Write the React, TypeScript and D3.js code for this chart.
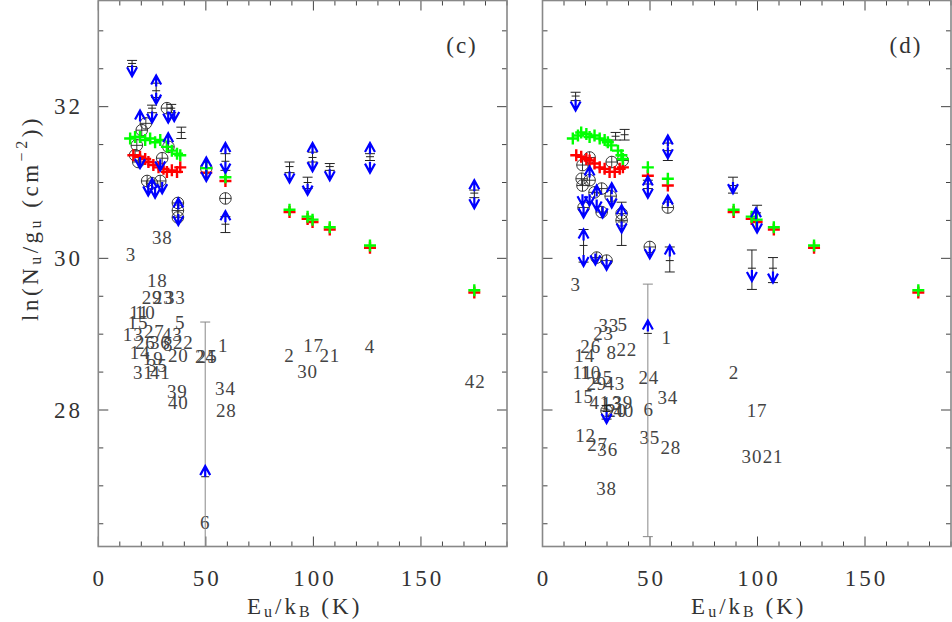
import React from 'react';
import * as d3 from 'd3';

type P = [number, number];
type EB = [number, number, number, number];
type L = [string, number, number];

// ---------- shared axes ----------
const xDomain: P = [0, 190];
const yDomain: P = [26.2, 33.4];
const xMajorTicks = [0, 50, 100, 150];
const yMajorTicks = [28, 30, 32];

// ---------- panel (c) ----------
const greenC: P[] = [
  [14.8, 31.58], [17.1, 31.6], [19.4, 31.6], [21.8, 31.56], [24.1, 31.58], [26.4, 31.53], [28.8, 31.56],
  [31.9, 31.47], [34.2, 31.42], [36.6, 31.38], [38.1, 31.36], [50.2, 31.19], [59.1, 31.07],
  [88.9, 30.64], [97.3, 30.55], [99.6, 30.51], [107.6, 30.41], [126.3, 30.17], [174.8, 29.58],
];
const redC: P[] = [
  [16.3, 31.36], [19.4, 31.34], [21.8, 31.31], [23.3, 31.27], [25.6, 31.23], [28.0, 31.2], [30.3, 31.18],
  [31.9, 31.14], [34.2, 31.16], [36.6, 31.14], [38.1, 31.2], [50.2, 31.13], [59.1, 31.02],
  [88.9, 30.61], [97.3, 30.52], [99.6, 30.48], [107.6, 30.38], [126.3, 30.14], [174.8, 29.55],
];
const barsC: EB[] = [
  [15.7, 32.57, 32.53, 32.61], [26.9, 32.21, 32.12, 32.31], [25.0, 31.98, 31.92, 32.02], [33.9, 31.98, 31.92, 32.03],
  [38.6, 31.66, 31.58, 31.73], [59.1, 31.28, 31.16, 31.38], [59.1, 30.45, 30.34, 30.55], [88.9, 31.21, 31.13, 31.27],
  [97.3, 31.0, 30.92, 31.07], [99.6, 31.33, 31.27, 31.4], [107.6, 31.21, 31.16, 31.25], [126.3, 31.34, 31.29, 31.38],
  [174.8, 30.86, 30.8, 30.9], [49.7, 27.12, 25.5, 29.16],
];
const downC: P[] = [
  [15.7, 32.4], [26.9, 32.04], [25.0, 31.79], [32.5, 31.79], [35.3, 31.81], [88.9, 31.0], [97.3, 30.84],
  [99.6, 31.15], [107.6, 31.03], [126.3, 31.13], [174.8, 30.66], [59.1, 31.13], [50.2, 31.02], [23.2, 30.83],
  [26.4, 30.8], [29.7, 30.86], [37.2, 30.44], [19.4, 31.19], [28.8, 31.16],
];
const upC: P[] = [
  [26.9, 32.41], [19.4, 31.95], [32.5, 31.65], [50.2, 31.33], [59.1, 31.52], [59.1, 30.62], [99.6, 31.52],
  [126.3, 31.52], [174.8, 31.03], [49.7, 27.26], [37.2, 30.79], [25.0, 31.05],
];
const circC: P[] = [
  [31.9, 31.98], [22.1, 31.78], [20.2, 31.69], [17.9, 31.49], [18.6, 31.27], [22.7, 31.02], [25.0, 30.99],
  [28.8, 31.02], [32.6, 31.47], [29.7, 31.32], [37.0, 30.73], [37.0, 30.63], [37.0, 30.54], [50.2, 31.19],
  [59.1, 30.79], [17.1, 31.36],
];
const labelsC: L[] = [
  ['38', 29.7, 30.28], ['3', 15.2, 30.05], ['18', 27.4, 29.71], ['29', 25.0, 29.49], ['23', 30.2, 29.49],
  ['33', 35.8, 29.49], ['11', 19.0, 29.29], ['10', 21.8, 29.29], ['15', 18.5, 29.16], ['5', 38.1, 29.16],
  ['13', 16.2, 29.0], ['27', 26.0, 29.04], ['43', 34.4, 29.0], ['26', 21.8, 28.89], ['36', 28.8, 28.89],
  ['8', 32.5, 28.87], ['22', 39.5, 28.89], ['14', 19.4, 28.76], ['19', 25.5, 28.68], ['20', 37.2, 28.72],
  ['24', 49.7, 28.7], ['25', 50.6, 28.7], ['1', 58.1, 28.85], ['31', 20.9, 28.5], ['41', 28.8, 28.5],
  ['35', 27.4, 28.59], ['39', 36.7, 28.25], ['40', 37.2, 28.1], ['34', 59.1, 28.29], ['28', 59.5, 27.99],
  ['6', 49.7, 26.52], ['2', 88.9, 28.72], ['17', 100.1, 28.85], ['30', 97.3, 28.51], ['21', 107.6, 28.72],
  ['4', 126.3, 28.84], ['42', 175.2, 28.37],
];

// ---------- panel (d) ----------
const greenD: P[] = [
  [14.1, 31.58], [16.5, 31.62], [18.0, 31.66], [20.4, 31.64], [21.9, 31.6], [24.2, 31.62], [26.6, 31.58],
  [28.9, 31.56], [30.4, 31.53], [32.0, 31.49], [35.1, 31.42], [36.7, 31.36], [37.4, 31.31], [49.0, 31.2],
  [58.3, 31.05], [88.9, 30.64], [97.3, 30.55], [99.6, 30.51], [107.6, 30.41], [126.3, 30.17], [174.8, 29.58],
];
const redD: P[] = [
  [15.7, 31.36], [18.0, 31.34], [20.4, 31.31], [21.9, 31.29], [24.2, 31.25], [26.6, 31.2], [28.9, 31.18],
  [31.2, 31.14], [33.6, 31.14], [35.9, 31.18], [37.4, 31.2], [49.0, 31.09], [58.3, 30.96],
  [88.9, 30.61], [97.3, 30.52], [99.6, 30.48], [107.6, 30.38], [126.3, 30.14], [174.8, 29.55],
];
const barsD: EB[] = [
  [15.4, 32.14, 32.08, 32.19], [34.0, 31.61, 31.56, 31.66], [38.2, 31.63, 31.56, 31.7], [49.0, 30.98, 30.92, 31.03],
  [58.3, 31.42, 31.29, 31.52], [19.1, 30.17, 29.95, 30.38], [36.8, 30.48, 30.17, 30.74], [59.2, 29.97, 29.82, 30.15],
  [49.0, 29.01, 26.33, 29.66], [88.6, 30.96, 30.86, 31.07], [97.4, 29.87, 29.59, 30.11], [99.8, 30.6, 30.49, 30.7],
  [107.2, 29.87, 29.68, 30.01], [29.8, 27.98, 27.88, 28.06],
];
const downD: P[] = [
  [15.4, 31.95], [18.6, 30.7], [21.9, 30.7], [25.2, 30.63], [28.0, 30.54], [32.2, 30.67], [19.1, 30.54],
  [36.8, 30.34], [49.0, 30.8], [58.3, 31.32], [49.9, 30.0], [88.6, 30.86], [97.4, 29.7], [99.8, 30.34],
  [107.2, 29.68], [19.1, 29.9], [24.6, 29.92], [29.8, 29.85], [29.8, 27.83],
];
const upD: P[] = [
  [21.9, 31.21], [32.2, 30.99], [36.8, 30.7], [49.0, 31.08], [58.3, 31.62], [58.3, 30.83], [19.1, 30.38],
  [59.2, 30.17], [49.0, 29.18], [99.3, 30.66], [25.2, 30.96],
];
const circD: P[] = [
  [21.9, 31.33], [18.6, 31.23], [32.2, 31.27], [37.3, 31.29], [18.2, 31.05], [18.6, 30.96], [21.9, 31.03],
  [24.2, 30.87], [27.5, 30.92], [31.7, 30.82], [19.1, 30.67], [27.5, 30.61], [36.8, 30.59], [36.8, 30.5],
  [58.3, 30.67], [49.9, 30.15], [25.2, 30.01], [29.8, 29.97], [29.8, 27.99],
];
const labelsD: L[] = [
  ['3', 15.4, 29.65], ['33', 30.8, 29.12], ['5', 37.3, 29.13], ['23', 28.4, 29.01], ['1', 57.8, 28.96],
  ['26', 22.4, 28.84], ['8', 32.2, 28.76], ['22', 39.2, 28.8], ['14', 19.6, 28.72], ['11', 18.6, 28.5],
  ['10', 22.4, 28.5], ['25', 28.0, 28.43], ['29', 25.2, 28.35], ['43', 33.6, 28.35], ['24', 49.4, 28.43],
  ['15', 19.1, 28.18], ['34', 58.3, 28.16], ['41', 26.6, 28.1], ['13', 32.2, 28.09], ['39', 37.3, 28.1],
  ['20', 34.5, 28.0], ['40', 37.8, 28.0], ['6', 49.4, 28.01], ['12', 20.0, 27.66], ['27', 25.6, 27.54],
  ['36', 30.3, 27.48], ['35', 49.9, 27.64], ['28', 59.7, 27.51], ['38', 29.8, 26.97], ['2', 89.0, 28.5],
  ['17', 99.8, 27.99], ['30', 97.4, 27.39], ['21', 107.2, 27.39],
];

const SERIF = '"Liberation Serif", "DejaVu Serif", serif';

interface PanelProps {
  id: string; tag: string; left: number; right: number; top: number; bottom: number;
  green: P[]; red: P[]; bars: EB[]; down: P[]; up: P[]; circ: P[]; labels: L[];
}

function Panel(p: PanelProps) {
  const x = d3.scaleLinear().domain(xDomain).range([p.left, p.right]);
  const y = d3.scaleLinear().domain(yDomain).range([p.bottom, p.top]);
  const xMinor = d3.range(0, 191, 10);
  const yMinor = d3.range(26.5, 33.41, 0.5);
  const tickCol = '#444';
  const clip = `clip-${p.id}`;
  return (
    <g>
      <defs>
        <clipPath id={clip}>
          <rect x={p.left} y={p.top} width={p.right - p.left} height={p.bottom - p.top} />
        </clipPath>
      </defs>
      {xMinor.map((t) => {
        const L = t % 50 === 0 ? 10 : 5;
        return (
          <g key={'xt' + t} stroke={tickCol} strokeWidth={1}>
            <line x1={x(t)} x2={x(t)} y1={p.bottom} y2={p.bottom - L} />
            <line x1={x(t)} x2={x(t)} y1={p.top} y2={p.top + L} />
          </g>
        );
      })}
      {yMinor.map((t) => {
        const L = Math.abs(t % 2) < 1e-6 ? 10 : 5;
        return (
          <g key={'yt' + t} stroke={tickCol} strokeWidth={1}>
            <line x1={p.left} x2={p.left + L} y1={y(t)} y2={y(t)} />
            <line x1={p.right} x2={p.right - L} y1={y(t)} y2={y(t)} />
          </g>
        );
      })}
      <rect x={p.left} y={p.top} width={p.right - p.left} height={p.bottom - p.top} fill="none" stroke="#888" strokeWidth={1.6} />
      {xMajorTicks.map((t) => (
        <text key={'xl' + t} x={x(t) + 1.5} y={578} textAnchor="middle" dominantBaseline="central" fontFamily={SERIF} fontSize={23} letterSpacing={3} fill="#333">{t}</text>
      ))}
      <text x={(p.left + p.right) / 2 + 2} y={606} textAnchor="middle" dominantBaseline="central" fontFamily={SERIF} fontSize={23} letterSpacing={3} fill="#333">
        E<tspan fontSize={16} dy={5}>u</tspan><tspan dy={-5}>/k</tspan><tspan fontSize={16} dy={5}>B</tspan><tspan dy={-5}> (K)</tspan>
      </text>
      <text x={p.right - 45} y={45} textAnchor="middle" dominantBaseline="central" fontFamily={SERIF} fontSize={23} letterSpacing={2} fill="#333">{p.tag}</text>
      <g clipPath={`url(#${clip})`}>
        {p.labels.map((l, i) => (
          <text key={'lb' + i} x={x(l[1])} y={y(l[2])} textAnchor="middle" dominantBaseline="central" fontFamily={SERIF} fontSize={19} letterSpacing={0.8} fill="#444">{l[0]}</text>
        ))}
        {p.bars.map((b, i) => {
          const cx = x(b[0]);
          const big = b[3] - b[2] > 1;
          return (
            <g key={'eb' + i} stroke={big ? '#888' : '#222'} strokeWidth={1}>
              <line x1={cx} x2={cx} y1={y(b[3])} y2={y(b[2])} />
              <line x1={cx - 5} x2={cx + 5} y1={y(b[3])} y2={y(b[3])} />
              <line x1={cx - 5} x2={cx + 5} y1={y(b[2])} y2={y(b[2])} />
              <line x1={cx - 4} x2={cx + 4} y1={y(b[1])} y2={y(b[1])} stroke="#222" />
            </g>
          );
        })}
        {p.circ.map((c, i) => {
          const cx = x(c[0]), cy = y(c[1]);
          return (
            <g key={'ci' + i} stroke="#222" strokeWidth={0.9} fill="none">
              <circle cx={cx} cy={cy} r={5.8} />
              <path d={`M${cx - 5.8},${cy}H${cx + 5.8}M${cx},${cy - 5.8}V${cy + 5.8}`} />
            </g>
          );
        })}
        {p.red.map((c, i) => {
          const cx = x(c[0]), cy = y(c[1]);
          return <path key={'r' + i} d={`M${cx - 6},${cy}H${cx + 6}M${cx},${cy - 6}V${cy + 6}`} stroke="#ff0000" strokeWidth={2.4} />;
        })}
        {p.green.map((c, i) => {
          const cx = x(c[0]), cy = y(c[1]);
          return <path key={'g' + i} d={`M${cx - 6},${cy}H${cx + 6}M${cx},${cy - 6}V${cy + 6}`} stroke="#00ff00" strokeWidth={2.4} />;
        })}
        {p.down.map((c, i) => {
          const cx = x(c[0]), cy = y(c[1]);
          return <path key={'d' + i} d={`M${cx - 5},${cy - 9}L${cx},${cy}L${cx + 5},${cy - 9}M${cx},${cy}V${cy - 11}`} stroke="#0000ff" strokeWidth={2.2} fill="none" />;
        })}
        {p.up.map((c, i) => {
          const cx = x(c[0]), cy = y(c[1]);
          return <path key={'u' + i} d={`M${cx - 5},${cy + 9}L${cx},${cy}L${cx + 5},${cy + 9}M${cx},${cy}V${cy + 11}`} stroke="#0000ff" strokeWidth={2.2} fill="none" />;
        })}
      </g>
    </g>
  );
}

export default function App() {
  const top = 0.5;
  const bottom = 546.5;
  const yScale = d3.scaleLinear().domain(yDomain).range([bottom, top]);
  return (
    <svg width={952} height={622} style={{ position: 'absolute', left: 0, top: 0, background: '#fff' }}>
      <rect width={952} height={622} fill="#fff" />
      {yMajorTicks.map((t) => (
        <text key={'yl' + t} x={83} y={yScale(t)} textAnchor="end" dominantBaseline="central" fontFamily={SERIF} fontSize={23} letterSpacing={3} fill="#333">{t}</text>
      ))}
      <text transform={`translate(30,${218}) rotate(-90)`} textAnchor="middle" dominantBaseline="central" fontFamily={SERIF} fontSize={23} letterSpacing={3.5} fill="#333">
        ln(N<tspan fontSize={16} dy={5}>u</tspan><tspan dy={-5}>/g</tspan><tspan fontSize={16} dy={5}>u</tspan><tspan dy={-5}> (cm</tspan><tspan fontSize={16} dy={-9}>−2</tspan><tspan dy={9}>))</tspan>
      </text>
      <Panel id="c" tag="(c)" left={98.3} right={507} top={top} bottom={bottom}
        green={greenC} red={redC} bars={barsC} down={downC} up={upC} circ={circC} labels={labelsC} />
      <Panel id="d" tag="(d)" left={542.5} right={951} top={top} bottom={bottom}
        green={greenD} red={redD} bars={barsD} down={downD} up={upD} circ={circD} labels={labelsD} />
    </svg>
  );
}
